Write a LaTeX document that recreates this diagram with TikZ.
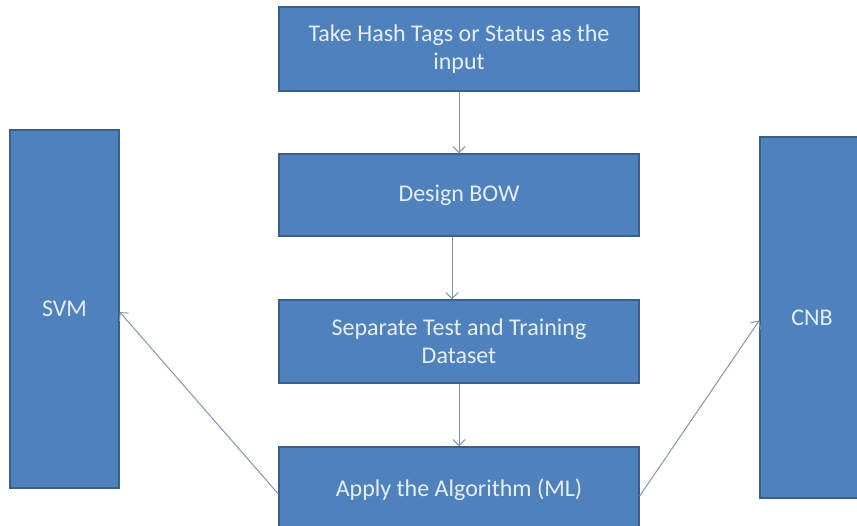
\documentclass[tikz,border=0pt]{standalone}
\usepackage{fontspec}
\setmainfont{Carlito}
\usetikzlibrary{arrows.meta}
\definecolor{boxfill}{HTML}{4F81BD}
\definecolor{boxline}{HTML}{3B5F8C}
\definecolor{boxtext}{HTML}{E6EEF8}
\definecolor{linkcol}{HTML}{8496B0}
\tikzset{
  stage/.style={draw=boxline, line width=1.4pt, fill=boxfill, text=boxtext,
    minimum width=360pt, align=center, inner sep=0pt,
    font=\fontsize{24}{28}\selectfont},
  model/.style={draw=boxline, line width=1.4pt, fill=boxfill, text=boxtext,
    inner sep=0pt, font=\fontsize{24}{28}\selectfont},
  link/.style={draw=linkcol, line width=1pt, -{Straight Barb[length=6pt,width=12pt]}}
}
\begin{document}
\begin{tikzpicture}[x=1pt,y=1pt]
\useasboundingbox (0,0) rectangle (857,526);
\fill[white] (0,0) rectangle (857,526);
% processing stages, top to bottom
\node[stage, minimum height=84pt] (input) at (459,477) {Take Hash Tags or Status as the\\input};
\node[stage, minimum height=82pt] (bow)   at (459,331) {Design BOW};
\node[stage, minimum height=83pt] (split) at (459,184.5) {Separate Test and Training\\Dataset};
\node[stage, minimum height=86pt] (apply) at (459,36) {Apply the Algorithm (ML)};
% classifiers
\node[model, minimum width=109pt, minimum height=358pt] (svm) at (64.5,217) {SVM};
\node[model, minimum width=104pt, minimum height=361pt] (cnb) at (812,208.5) {CNB};
% connectors
\draw[link] (input.south) -- (bow.north);
\draw[link] ([xshift=-7pt]bow.south) -- ([xshift=-7pt]split.north);
\draw[link] (split.south) -- (apply.north);
\draw[link] ([yshift=-4pt]apply.west) -- ([yshift=-3pt]svm.east);
\draw[link] ([yshift=-6pt]apply.east) -- ([yshift=-3pt]cnb.west);
\end{tikzpicture}
\end{document}
